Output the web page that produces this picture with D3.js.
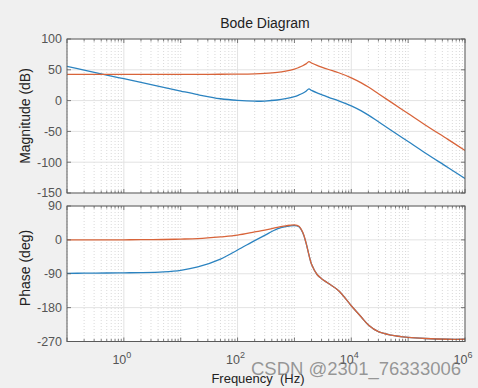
<!DOCTYPE html>
<html>
<head>
<meta charset="utf-8">
<script src="https://cdn.jsdelivr.net/npm/d3@7"></script>
<style>
  html, body { margin: 0; padding: 0; background: #f0f0f0; }
  svg { display: block; font-family: "Liberation Sans", Arial, sans-serif; }
</style>
</head>
<body>
<svg id="chart" width="478" height="388"></svg>
<script>
// values (Hz, dB, deg)
const freq = [0.1, 0.2, 0.5, 1, 2, 5, 10, 20, 50, 100, 200, 300, 500, 700, 1000, 1200, 1400, 1600, 1800,
              2000, 2500, 3000, 4000, 6000, 10000, 15000, 20000, 30000, 50000, 1e5, 2e5, 5e5, 1e6];
const magOrange = [42.7, 42.7, 42.7, 42.7, 42.7, 42.7, 42.7, 42.7, 42.8, 43, 43.5, 44.2, 45.8, 47.8, 51, 53.8, 56.6, 59.6, 63.3,
                   61, 57.2, 54.5, 50.5, 45.2, 37, 28.8, 22, 11.2, -2.5, -21, -39.5, -63, -81];
const magBlue = [55.5, 49.5, 41.5, 35.5, 29.5, 21.6, 15.5, 9.6, 3, 0.3, -1, -0.7, 1, 3.2, 6.5, 9.2, 12, 15.2, 19,
                 16.5, 12.5, 9.8, 5.3, -0.3, -8.5, -16.7, -23.5, -34.3, -48, -66.5, -85, -108.5, -126.5];
const phaseOrange = [0, 0, 0.1, 0.2, 0.5, 1, 2, 3.5, 8, 12.5, 21, 26, 33, 37, 40, 36, 20, -8, -40,
                     -65, -92, -103, -116, -135, -175, -205, -226, -244, -253, -259, -262, -264, -264];
const phaseBlue = [-89, -88.5, -88, -87.5, -87, -85, -81, -72, -51, -27, -2, 12, 29, 35, 38, 35, 19, -8, -40,
                   -65, -92, -103, -116, -135, -175, -205, -226, -244, -253, -259, -262, -264, -264];
const magTicks = [100, 50, 0, -50, -100, -150];
const phaseTicks = [90, 0, -90, -180, -270];
const freqLabelExp = [0, 2, 4, 6];

const blue = "#2b83c0";
const orange = "#d8643a";

const svg = d3.select("#chart");
const left = 67, right = 465;

const x = d3.scaleLog().domain([0.1, 1e6]).range([left, right]);

function isDecade(t) {
    return Math.abs(Math.log10(t) - Math.round(Math.log10(t))) < 1e-6;
}

function drawPanel(top, bottom, yDomain, yTicks, series, id) {
    const y = d3.scaleLinear().domain(yDomain).range([bottom, top]);
    const g = svg.append("g");

    g.append("rect")
        .attr("x", left).attr("y", top)
        .attr("width", right - left).attr("height", bottom - top)
        .attr("fill", "#fff");

    // minor grid (dotted) and major grid
    const allTicks = x.ticks();
    g.selectAll(".minor")
        .data(allTicks.filter(t => !isDecade(t) || !freqLabelExp.includes(Math.round(Math.log10(t)))))
        .join("line")
        .attr("x1", d => x(d)).attr("x2", d => x(d))
        .attr("y1", top).attr("y2", bottom)
        .attr("stroke", "#c8c8c8").attr("stroke-width", 0.7)
        .attr("stroke-dasharray", "1,2");

    g.selectAll(".majx")
        .data(freqLabelExp.map(e => Math.pow(10, e)))
        .join("line")
        .attr("x1", d => x(d)).attr("x2", d => x(d))
        .attr("y1", top).attr("y2", bottom)
        .attr("stroke", "#e3e3e3").attr("stroke-width", 1);

    g.selectAll(".majy")
        .data(yTicks)
        .join("line")
        .attr("x1", left).attr("x2", right)
        .attr("y1", d => y(d)).attr("y2", d => y(d))
        .attr("stroke", "#e3e3e3").attr("stroke-width", 1);

    // curves
    svg.append("clipPath").attr("id", id)
        .append("rect").attr("x", left).attr("y", top)
        .attr("width", right - left).attr("height", bottom - top);

    const line = d3.line()
        .x((d, i) => x(freq[i]))
        .y(d => y(d))
        .curve(d3.curveCatmullRom.alpha(0.5));

    series.forEach(s => {
        g.append("path")
            .attr("d", line(s.values))
            .attr("fill", "none")
            .attr("stroke", s.color)
            .attr("stroke-width", 1.3)
            .attr("clip-path", `url(#${id})`);
    });

    // tick marks inside the box
    allTicks.forEach(t => {
        const len = isDecade(t) ? 4 : 2.5;
        g.append("line").attr("x1", x(t)).attr("x2", x(t)).attr("y1", bottom).attr("y2", bottom - len)
            .attr("stroke", "#5a5a5a").attr("stroke-width", 0.8);
        g.append("line").attr("x1", x(t)).attr("x2", x(t)).attr("y1", top).attr("y2", top + len)
            .attr("stroke", "#5a5a5a").attr("stroke-width", 0.8);
    });
    yTicks.forEach(t => {
        g.append("line").attr("x1", left).attr("x2", left + 4).attr("y1", y(t)).attr("y2", y(t))
            .attr("stroke", "#5a5a5a").attr("stroke-width", 0.8);
        g.append("line").attr("x1", right).attr("x2", right - 4).attr("y1", y(t)).attr("y2", y(t))
            .attr("stroke", "#5a5a5a").attr("stroke-width", 0.8);
    });

    g.append("rect")
        .attr("x", left).attr("y", top)
        .attr("width", right - left).attr("height", bottom - top)
        .attr("fill", "none").attr("stroke", "#5a5a5a").attr("stroke-width", 1);

    // y tick labels
    g.selectAll(".ylab")
        .data(yTicks)
        .join("text")
        .attr("x", left - 5)
        .attr("y", d => y(d))
        .attr("dy", "0.35em")
        .attr("text-anchor", "end")
        .attr("font-size", 12.5)
        .attr("fill", "#555")
        .text(d => d);

    return y;
}

drawPanel(39, 193, [-150, 100], magTicks,
    [{values: magBlue, color: blue}, {values: magOrange, color: orange}], "clipMag");
drawPanel(206, 341.5, [-270, 90], phaseTicks,
    [{values: phaseBlue, color: blue}, {values: phaseOrange, color: orange}], "clipPh");

// x tick labels with superscripts
freqLabelExp.forEach(e => {
    const t = svg.append("text")
        .attr("x", x(Math.pow(10, e)) - 2)
        .attr("y", 364)
        .attr("text-anchor", "middle")
        .attr("font-size", 12.5)
        .attr("fill", "#555");
    t.append("tspan").text("10");
    t.append("tspan").attr("font-size", 9).attr("dy", -6).text(e);
});

// titles
svg.append("text").attr("x", 265).attr("y", 28).attr("text-anchor", "middle")
    .attr("font-size", 14).attr("fill", "#222").text("Bode Diagram");

svg.append("text").attr("transform", "translate(30,116) rotate(-90)")
    .attr("text-anchor", "middle").attr("font-size", 14).attr("fill", "#222")
    .text("Magnitude (dB)");

svg.append("text").attr("transform", "translate(30,268) rotate(-90)")
    .attr("text-anchor", "middle").attr("font-size", 14).attr("fill", "#222")
    .text("Phase (deg)");

svg.append("text").attr("x", 258).attr("y", 383).attr("text-anchor", "middle")
    .attr("font-size", 13).attr("fill", "#222").attr("xml:space", "preserve")
    .text("Frequency  (Hz)");

// watermark
svg.append("text").attr("x", 356).attr("y", 375).attr("text-anchor", "middle")
    .attr("font-size", 18.5).attr("fill", "rgba(110,110,110,0.7)")
    .text("CSDN @2301_76333006");
</script>
</body>
</html>
